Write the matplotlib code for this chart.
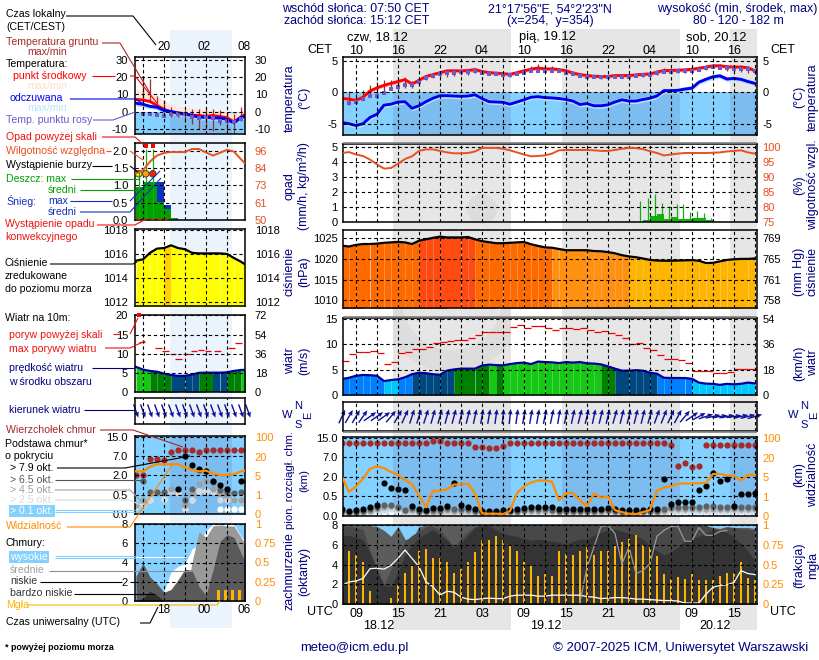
#!/usr/bin/env python3
# Meteogram: 60 h forecast (main panels) plus a legend copy of the first hours (left panels)
import numpy as np
import matplotlib
matplotlib.use('Agg')
import matplotlib.pyplot as plt
from matplotlib.patches import Rectangle, Circle, Wedge

plt.rcParams['font.family'] = ['Liberation Sans', 'DejaVu Sans']
plt.rcParams['font.size'] = 8

# --- main panels: hours since 18.12 00 UTC, hourly values
hours = list(range(7, 67))
temp_mid = [-1.0, -1.1, -1.3, -0.8, 0.2, 0.7, 1.1, 1.4, 1.7, 2.0, 1.3, 1.9, 2.5, 2.8, 3.1, 3.4, 3.4, 3.4, 3.45, 3.6,
            3.3, 3.1, 3.05, 2.95, 2.85, 3.1, 3.4, 3.65, 3.85, 3.7, 3.7, 3.6, 3.4, 3.05, 2.8, 2.65, 2.55, 2.5, 2.5, 2.65,
            2.65, 2.65, 2.75, 2.85, 2.9, 3.2, 3.45, 3.45, 3.5, 3.55, 3.65, 3.8, 4.0, 4.2, 4.2, 4.05, 4.0, 4.0, 3.9, 3.4]
temp_feel = [-4.8, -5.0, -5.3, -5.0, -4.0, -3.5, -2.05, -1.9, -1.55, -1.5, -2.55, -2.15, -1.5, -0.95, -0.55, -0.55,
             -0.6, -0.65, -0.6, -0.4, -1.0, -1.5, -1.55, -1.6, -1.9, -1.55, -1.2, -0.8, -0.7, -0.85, -0.9, -1.0, -1.15,
             -1.4, -1.95, -1.8, -2.15, -2.15, -2.0, -1.55, -1.2, -1.4, -1.4, -1.15, -0.95, -0.6, 0.25, 0.25, 0.3, 0.5,
             0.65, 1.6, 2.05, 2.45, 2.6, 2.1, 2.2, 2.05, 1.7, 1.4]
temp_dew = [-1.7, -1.7, -1.5, -1.1, -0.6, -0.6, -0.1, 0.5, 0.9, 1.2, 1.1, 1.7, 2.3, 2.6, 2.9, 3.1, 3.1, 3.15, 3.2,
            3.3, 3.1, 2.9, 2.85, 2.8, 2.7, 2.9, 3.1, 3.3, 3.4, 3.35, 3.4, 3.3, 3.1, 2.85, 2.65, 2.5, 2.4, 2.35, 2.35,
            2.5, 2.5, 2.5, 2.6, 2.7, 2.75, 3.0, 3.2, 3.25, 3.3, 3.35, 3.45, 3.6, 3.8, 3.95, 3.9, 3.8, 3.75, 3.75, 3.7, 3.3]
ground_max = [-0.5, 0.2, -0.2, 0.4, 1.2, 1.6, 1.9, 1.9, 2.1, 2.4, 1.8, 2.3, 2.8, 3.0, 3.3, 3.6, 3.6, 3.6, 3.6, 3.8,
              3.5, 3.3, 3.2, 3.1, 3.0, 3.3, 3.7, 4.1, 4.5, 4.1, 4.1, 3.9, 3.7, 3.3, 3.0, 2.9, 2.8, 2.7, 2.7, 2.9,
              2.9, 2.9, 3.0, 3.1, 3.1, 3.5, 3.8, 3.8, 3.9, 3.9, 4.0, 4.1, 4.3, 4.5, 4.5, 4.4, 4.3, 4.3, 4.2, 3.6]
ground_min = [-1.4, -2.0, -1.8, -1.3, -0.6, -0.4, 0.2, 0.5, 0.5, 0.6, 0.6, 1.2, 1.9, 2.3, 2.5, 2.5, 2.6, 2.7, 2.8,
              3.0, 2.9, 2.7, 2.7, 2.5, 2.5, 2.7, 2.9, 3.2, 3.3, 3.2, 3.2, 3.2, 3.0, 2.7, 2.4, 2.3, 2.2, 2.1, 2.1,
              2.3, 2.3, 2.3, 2.4, 2.5, 2.6, 2.8, 3.0, 3.0, 3.1, 3.1, 3.2, 3.4, 3.6, 3.8, 3.7, 3.3, 3.3, 3.2, 3.0, 2.9]
temp_spread = 0.3
feel_spread = 0.4

humidity = [98.0, 98.3, 97.5, 97.0, 95.8, 94.2, 92.8, 93.0, 94.4, 96.0, 96.9, 98.7, 99.2, 99.2, 98.7, 98.2, 97.9,
            97.9, 98.0, 98.5, 99.7, 99.7, 99.7, 99.4, 98.9, 98.2, 97.5, 96.9, 97.0, 97.2, 97.8, 98.9, 99.0, 99.0, 99.0,
            99.0, 98.9, 98.7, 98.7, 99.0, 99.4, 99.7, 99.6, 99.3, 98.6, 98.0, 97.2, 97.5, 97.8, 98.0, 98.0, 98.0, 98.0,
            98.1, 98.2, 98.5, 98.7, 98.9, 98.2, 97.8]
rain_hours = [50, 51, 52, 53, 54, 55, 56, 57, 58, 59]
rain_mean = [0.15, 0.38, 0.53, 0.2, 0.33, 0.18, 0.18, 0.25, 0.25, 0.15]
rain_max_hours = [49.6, 50.75, 51.75, 52.75, 53.75, 54.8, 55.75, 56.7, 57.7, 58.7, 59.7, 60.8]
rain_max = [1.38, 1.62, 1.9, 1.3, 1.04, 1.22, 1.18, 0.67, 0.73, 0.6, 0.3, 0.1]

pressure = [1023.2, 1023.0, 1023.4, 1023.6, 1023.6, 1023.7, 1023.9, 1024.0, 1024.1, 1024.0, 1023.6, 1024.4, 1024.75,
            1025.1, 1025.4, 1025.2, 1025.2, 1025.2, 1025.3, 1024.75, 1024.3, 1024.05, 1023.8, 1023.8, 1023.9, 1024.0,
            1024.1, 1023.55, 1023.15, 1022.8, 1022.7, 1022.4, 1022.1, 1022.1, 1022.1, 1022.1, 1021.9, 1021.85, 1021.65,
            1021.35, 1020.9, 1020.6, 1020.4, 1020.1, 1019.75, 1019.6, 1019.55, 1019.55, 1019.6, 1019.65, 1019.7, 1019.55,
            1019.0, 1019.05, 1019.4, 1019.75, 1019.9, 1020.0, 1020.0, 1020.1]
pressure_class = [1] * 11 + [0] * 8 + [1] * 11 + [2] * 11 + [3] * 19

wind = [3.15, 3.4, 3.8, 3.95, 3.9, 3.8, 2.75, 2.95, 3.1, 3.5, 4.1, 4.4, 4.3, 4.1, 4.0, 4.8, 5.05, 5.2, 5.2, 5.2, 5.8,
        6.0, 5.9, 5.85, 6.1, 6.3, 6.4, 6.1, 6.6, 6.5, 6.45, 6.3, 6.5, 6.4, 6.5, 6.25, 6.2, 6.05, 5.65, 5.2, 4.8, 4.8,
        4.9, 4.8, 4.4, 4.2, 3.4, 3.35, 3.35, 3.35, 3.2, 2.45, 2.25, 2.2, 2.0, 2.2, 2.1, 2.2, 2.45, 2.3]
wind_class = [1] * 6 + [0] * 2 + [1] * 2 + [2] * 6 + [3] * 5 + [4] + [3] + [4] * 14 + [3] * 2 + [2] * 6 + [1] * 5 + [0] * 10
gust = [6.65, 8.0, 8.4, 8.4, 8.6, 8.3, 6.05, 6.45, 8.2, 8.4, 9.0, 9.0, 9.4, 10.2, 10.4, 10.6, 10.8, 10.8, 11.2, 11.8,
        12.4, 12.4, 12.4, 12.4, 13.35, 13.75, 13.15, 13.55, 13.55, 13.15, 12.85, 13.15, 13.15, 12.95, 13.15, 12.75,
        12.35, 12.55, 12.3, 11.8, 11.3, 10.05, 10.2, 9.2, 8.8, 7.85, 7.05, 7.05, 6.85, 6.25, 4.75, 4.75, 4.75, 4.3,
        4.3, 4.55, 5.05, 5.05, 5.05, 5.05]
wind_dir = [25, 30, 30, 35, 55, 55, 55, 40, 30, 25, 18, 18, 18, 16, 16, 15, 15, 14, 14, 12, 10, 10, 8, 6, 6, 8, 10, 10,
            10, 12, 12, 10, 12, 12, 14, 14, 12, 14, 14, 16, 14, 14, 14, 14, 16, 20, 22, 25, 28, 40, 55, 62, 72, 78, 82,
            80, 82, 78, 76, 74]

cloud_top = [12.9, 12.9, 12.9, 12.9, 12.9, 12.9, 12.9, 12.9, 12.9, 12.9, 12.9, 12.9, 12.9, 13.5, 13.5, 12.9, 12.9, 12.9,
             12.9, 11.4, 11.4, 11.0, 11.0, 11.5, 12.9, 12.9, 12.9, 12.9, 12.9, 12.9, 12.9, 12.9, 12.9, 12.9, 12.9, 12.9,
             12.9, 12.9, 12.9, 12.9, 12.9, 12.9, 12.9, 12.9, 12.9, 12.9, 12.9, 12.07, 4.85, 5.6, 4.6, 4.85, 12.07, 12.07,
             12.07, 12.07, 12.07, 12.07, 12.07, 12.07]
base_79 = [0.17, 0.14, 0.155, 0.18, 0.22, 0.29, 1.5, 1.13, 1.1, 1.0, 0.26, 0.17, 0.155, 0.2, 0.2, 0.26, 1.5, 0.27, 0.22,
           0.17, 0.14, 0.13, 0.13, 0.15, 0.155, 0.17, 0.21, 0.22, 0.23, 0.22, 0.22, 0.17, 0.18, 0.18, 0.18, 0.17, 0.19,
           0.19, 0.21, 0.19, 0.155, 0.145, 0.145, 0.16, 0.17, 0.18, 1.8, 0.31, 0.36, 0.37, 0.36, 0.98, 1.33, 3.03, 1.71,
           1.87, 0.26, 0.65, 0.7, 0.75]
base_65 = [0.12, 0.1, 0.11, 0.13, 0.17, 0.22, 0.27, 0.28, 0.24, 0.16, 0.2, 0.13, 0.12, 0.15, 0.15, 0.2, 0.17, 0.19, 0.17,
           0.13, 0.1, 0.1, 0.1, 0.11, 0.12, 0.13, 0.16, 0.17, 0.17, 0.17, 0.16, 0.13, 0.14, 0.14, 0.14, 0.13, 0.14, 0.15,
           0.16, 0.14, 0.11, 0.11, 0.11, 0.12, 0.13, 0.14, 0.17, 0.23, 0.24, 0.24, 0.24, 0.24, 0.25, 0.25, 0.24, 0.24,
           0.22, 0.23, 0.24, 0.23]
base_45 = [0.09, 0.08, 0.08, 0.1, 0.13, 0.17, 0.22, 0.25, 0.2, 0.13, 0.15, 0.1, 0.09, 0.11, 0.11, 0.15, 0.13, 0.14, 0.13,
           0.1, 0.08, 0.08, 0.08, 0.09, 0.09, 0.1, 0.12, 0.13, 0.13, 0.13, 0.12, 0.1, 0.11, 0.11, 0.11, 0.1, 0.11, 0.11,
           0.12, 0.11, 0.09, 0.08, 0.08, 0.09, 0.1, 0.11, 0.14, 0.17, 0.17, 0.17, 0.17, 0.18, 0.18, 0.18, 0.18, 0.17,
           0.17, 0.18, 0.19, 0.18]
base_25 = [0.06, 0.05, 0.05, 0.07, 0.09, 0.13, 0.16, 0.18, 0.15, 0.09, 0.1, 0.07, 0.06, 0.08, 0.08, 0.1, 0.09, 0.1, 0.09,
           0.07, 0.05, 0.05, 0.05, 0.06, 0.06, 0.07, 0.09, 0.09, 0.09, 0.09, 0.08, 0.07, 0.08, 0.08, 0.08, 0.07, 0.08,
           0.08, 0.09, 0.08, 0.06, 0.06, 0.06, 0.06, 0.07, 0.08, 0.1, 0.12, 0.12, 0.12, 0.12, 0.13, 0.13, 0.13, 0.13,
           0.12, 0.12, 0.13, 0.14, 0.13]
base_01 = [0.03, 0.03, 0.03, 0.04, 0.05, 0.08, 0.1, 0.11, 0.09, 0.05, 0.06, 0.04, 0.03, 0.04, 0.04, 0.06, 0.05, 0.06, 0.05,
           0.04, 0.03, 0.03, 0.03, 0.03, 0.03, 0.04, 0.05, 0.05, 0.05, 0.05, 0.05, 0.04, 0.04, 0.04, 0.04, 0.04, 0.04,
           0.04, 0.05, 0.04, 0.03, 0.03, 0.03, 0.03, 0.04, 0.04, 0.06, 0.07, 0.07, 0.07, 0.07, 0.08, 0.08, 0.08, 0.08,
           0.07, 0.07, 0.08, 0.08, 0.08]
visibility = [5.2, 2.0, 3.1, 4.7, 11.5, 13.5, 12.0, 9.0, 6.8, 4.4, 3.6, 1.2, 0.45, 2.2, 2.2, 2.5, 3.5, 3.5, 3.7, 1.7, 0.14,
              0.12, 0.12, 0.1, 0.25, 1.7, 3.1, 3.9, 4.3, 4.3, 4.1, 0.8, 1.7, 1.8, 0.8, 0.5, 1.6, 0.95, 1.0, 0.3, 0.2, 0.12,
              0.1, 0.2, 0.3, 2.2, 2.9, 3.1, 3.7, 3.7, 3.7, 3.8, 3.8, 7.5, 7.6, 6.3, 6.2, 4.3, 7.0, 6.5]

cover_all = [8, 8, 8, 8, 8, 7.9, 7.5, 6.9, 7.9, 6.6, 6.6, 7.9] + [8] * 41 + [7.8, 7.7, 7.9, 7.8, 7.8, 7.8, 7.7]
cover_mid = [7.9, 7.9, 7.8, 7.6, 5.5, 3.5, 2.0, 3.5, 5.2, 6.4, 7.0, 7.4, 7.9, 7.9, 7.5, 6.7, 5.8, 6.7, 7.4, 7.9] \
    + [8] * 33 + [7.7, 7.6, 7.8, 7.8, 7.7, 7.6, 7.5]
cover_low = [7.0, 7.0, 6.8, 6.6, 5.2, 3.4, 1.9, 1.8, 3.2, 5.0, 6.0, 6.8, 7.2, 7.6, 7.0, 6.5, 5.8, 6.2, 7.0, 7.8, 8.0, 8.0,
             7.6, 7.2, 7.0, 6.9, 6.7, 6.5, 6.6, 6.5, 6.4, 6.3, 6.1, 6.4, 6.6, 6.6, 7.0, 7.3, 7.5, 7.6, 7.4, 7.2, 7.0, 6.6,
             6.0, 5.4, 5.0, 5.3, 5.8, 6.4, 6.7, 6.9, 7.2, 7.5, 7.5, 7.3, 6.8, 6.2, 5.4, 4.4]
cover_high_line = [1.9, 2.25, 2.35, 2.6, 3.6, 3.65, 3.55, 3.95, 4.65, 5.5, 4.65, 3.8, 2.25, 1.75, 0.9, 1.3, 1.2, 0.7, 0.5,
                   0.45, 0.55, 0.6, 0.55, 0.55, 0.8, 0.9, 0.9, 0.9, 0.8, 0.8, 0.9, 0.9, 0.9, 0.9, 0.9, 0.75, 0.7, 0.55, 0.6,
                   0.65, 0.65, 0.6, 0.5, 0.5, 0.45, 0.4, 0.35, 0.35, 0.3, 0.1, 0.1, 0.1, 1.0, 1.7, 1.9, 1.95, 2.2, 3.4, 3.1, 3.0]
mid_line_hours = list(range(41, 63))
cover_mid_line = [0.2, 3.7, 5.8, 7.9, 8.0, 7.2, 4.1, 5.8, 3.1, 3.4, 4.1, 6.9, 7.5, 7.9, 7.9, 6.4, 6.4, 7.8, 7.0, 7.0, 7.4, 7.5]
fog = [0.43, 0.67, 0.62, 0.53, 0.17, 0, 0, 0.08, 0.24, 0.4, 0.48, 0.67, 0.7, 0.59, 0.58, 0.54, 0.4, 0.45, 0.53, 0.66, 0.82,
       0.81, 0.86, 0.82, 0.74, 0.67, 0.53, 0.48, 0.36, 0.38, 0.36, 0.68, 0.64, 0.62, 0.68, 0.72, 0.62, 0.68, 0.68, 0.74, 0.79,
       0.83, 0.88, 0.75, 0.72, 0.61, 0.38, 0.32, 0.34, 0.32, 0.38, 0.3, 0.31, 0.31, 0.36, 0.39, 0.39, 0.54, 0.33, 0.31]

# --- left panels: legend copy, hours since 18.12 00 UTC
left_hours = list(range(-10, 7))
left_temp = [7, 6.6, 5.8, 3.5, 1.2, -0.2, -1, -1.7, -2.1, -2.3, -2.7, -2.3, -2.9, -3.6, -6, -3.2, -0.8]
left_temp_max = [13, 12, 10.5, 9, 6.5, 4.4, 3, 2.4, 1.6, 1.6, 0.8, 0.6, 0.4, -0.2, -1, 0.5, 1.5]
left_feel = [4.8, 4.2, 3, 2.5, 0.6, 0, -0.8, -1.3, -2.3, -3.3, -3.3, -3.7, -3.7, -4.6, -6.7, -3.3, -2.7]
left_dew_hours = list(range(-9, 6))
left_dew = [-1.3, -1.7, -2.3, -2.7, -1.3, -1.3, -1.7, -2.9, -3.7, -3.3, -3.8, -5.2, -5.6, -6.2, -4.2]
left_ground_max = [20.8, 18.8, 9.2, 6.3, 2.5, -0.4, 0.6, 1.5, 1.5, 1.5, 1.5, 0.6, -0.4, -1.3, 2.5]
left_ground_min = [7.3, 6.3, 4.4, -0.4, -3.3, -3.3, -6.2, -7.1, -10, -10, -11, -8, -11, -12.9, -5.2]
left_humidity = [81, 83, 88.7, 92.7, 94.4, 95, 95, 95, 97, 97, 94.7, 92.7, 94.5, 96.5, 95.3, 90.2, 85.4]
left_rain_hours = [-10, -9, -8, -7, -6, -5]
left_rain_mean = [0.95, 1.1, 1.1, 0.52, 0.33, 0.05]
left_snow_mean = [0, 0, 0, 1.1, 0.43, 0]
left_rain_stick_hours = [-9.6, -8.6, -7.6]
left_rain_stick = [1.33, 2.05, 2.05]
left_over_scale_hours = [-8.6, -7.6]
left_storm_hours = [-9.6, -8.6, -7.6]
left_convective_hours = [-10, -9, -8, -7, -6]
left_pressure = [1015.44, 1015.55, 1016.1, 1016.45, 1016.5, 1016.73, 1016.5, 1016.4, 1016.1, 1016.05, 1016.05, 1016.05,
                 1016.05, 1016.0, 1015.66, 1015.35, 1014.96]
left_pressure_class = [0, 0, 0, 0, 1, 0, 0, 0, 0, 0, 0, 0, 0, 0, 0, 0, 0]
left_wind = [6.55, 5.85, 5.5, 5.3, 4.8, 4.45, 4.2, 4.2, 4.55, 5.0, 5.05, 5.05, 5.05, 5.15, 5.5, 5.75, 5.8]
left_wind_class = [4, 4, 3, 3, 3, 2, 2, 2, 2, 3, 3, 2, 2, 3, 3, 4, 4]
left_gust_hours = [-9.6, -7.3, -6.3, -5.2, -4.4, -3.3, -2.2, -1.2, -0.2, 1.2, 3.2, 4.2]
left_gust = [13.1, 11.6, 10.8, 10.0, 8.6, 9.8, 10.6, 10.9, 10.7, 10.6, 11.6, 12.7]
left_dir = [160] * 17
left_cloud_top = [2.0, 2.0, 6.3, 6.3, 5.95, 8.7, 9.67, 9.67, 9.67, 8.7, 9.67, 9.67, 9.67, 9.67, 9.67, 9.67, 9.67]
left_base_79 = [np.nan] * 6 + [0.93, 7.0, 4.8, 3.75, 3.1, 1.55, 1.25, 0.93, np.nan, 1.55, 1.55]
left_base_65 = [np.nan, 1.6, 0.7, 0.7, 0.7, np.nan, np.nan, 0.35, 0.93, 3.4, 3.0, 1.5, 0.9, 0.7, 0.65, 0.7, 1.5]
left_base_45 = [0.24, 0.37, 0.6, 0.6, 0.6, 0.93, 0.93, 0.24, 0.6, 1.3, 1.6, 0.93, 0.6, 0.5, 0.37, 0.37, 0.6]
left_base_25 = [0.18, 0.24, 0.37, np.nan, 0.38, 0.75, 0.6, 0.12, 0.37, 0.75, 0.75, 0.75, 0.37, 0.37, 0.35, 0.37, 0.37]
left_base_01 = [np.nan, np.nan, 0.37, np.nan, 0.38, np.nan, np.nan, 0.12, 0.37, 0.75, 0.75, 0.75, 0.12, 0.12, 0.12, 0.12, np.nan]
left_vis = [8.4, 8.4, 12, 14, 14, 14, 14, 11.5, 9.5, 8.4, 9, 6.8, 5.5, 5.5, 6.3, 8.4, 9.5]
left_high = [0, 0, 0, 0, 1, 3, 3.6, 3.9, 5.4, 5.9, 7.3, 8, 8, 8, 8, 6.7, 6]
left_mid = [0, 0, 0, 0, 0, 0, 0, 0, 4, 7.2, 6.6, 7.8, 7.9, 7.8, 7.8, 6.6, 5.5]
left_low = [2.6, 3.9, 2.5, 1.8, 0.9, 1.2, 2.2, 3.3, 3.2, 1.5, 0.6, 3.2, 6.2, 6.9, 6.6, 5, 3.5]
left_vlow = [0, 0.3, 1, 0.6, 0, 0, 0, 0, 0, 0, 0, 0, 0, 0, 0, 0, 0]
left_fog_hours = [1.8, 2.8, 3.8, 4.8]
left_fog = [0.14, 0.14, 0.14, 0.14]

# --- tick labels, one for every second grid line
cet_labels = ['10', '', '16', '', '22', '', '04', '', '10', '', '16', '', '22', '', '04', '', '10', '', '16', '']
utc_labels = ['09', '', '15', '', '21', '', '03', '', '09', '', '15', '', '21', '', '03', '', '09', '', '15', '']
night_spans = [(14.29, 31.14), (38.43, 55.29), (62.43, 67)]
left_night_span = [(-5.14, 3.71)]

NAVY = '#000080'
SKY = '#84d0ff'
SKY_NIGHT = '#7cbcee'
ORANGE = '#ff8c00'
RH_COLOR = '#e8501e'
BROWN = '#a52a2a'
PRESSURE_COLORS = ['#ff4a10', '#ff6a00', '#ff9010', '#ffb400']
LEFT_PRESSURE_COLORS = ['#ffff00', '#ffd000']
WIND_COLORS = ['#00c8ff', '#0080ff', '#004880', '#008000', '#14c814']
DOT_COLORS = ['#ffffff', '#d8d8d8', '#a0a0a0', '#606060', '#000000']

MAIN_X = (343, 757)
LEFT_X = (135, 245)
main_xlim = (7.14, 66.3)
left_xlim = (-10.14, 5.57)
main_grid = list(range(9, 67, 3))
left_grid = [-9, -6, -3, 0, 3]
KM_STOPS = [0, 0.5, 2, 7, 15, 23]
VIS_STOPS = [0, 1, 5, 20, 100, 180]

fig = plt.figure(figsize=(8.2, 6.6), dpi=100, facecolor='white')


def pixel_axes(x0, y0, x1, y1, zorder=5):
    ax = fig.add_axes([x0 / 820, 1 - y1 / 660, (x1 - x0) / 820, (y1 - y0) / 660], zorder=zorder)
    ax.patch.set_visible(False)
    return ax


def page_axes(zorder):
    ax = fig.add_axes([0, 0, 1, 1], zorder=zorder)
    ax.set_xlim(0, 820)
    ax.set_ylim(660, 0)
    ax.axis('off')
    return ax


def height_scale(ax, stops):
    positions = np.arange(len(stops))
    ax.set_yscale('function', functions=(lambda v: np.interp(v, stops, positions),
                                         lambda p: np.interp(p, positions, stops)))


def dress(ax, xlim, xgrid, ylim, yticks, ylabels, grid_y=True, pad=5, stops=None):
    if stops is not None:
        height_scale(ax, stops)
    ax.set_xlim(*xlim)
    ax.set_ylim(*ylim)
    ax.set_xticks(xgrid)
    ax.set_xticklabels([])
    ax.set_yticks(yticks)
    ax.set_yticklabels(ylabels)
    ax.minorticks_off()
    ax.tick_params(length=0, pad=pad, labelsize=8)
    ax.set_axisbelow(False)
    ax.grid(True, axis='x', color='black', lw=0.8, ls=(0, (3, 2.5)))
    if grid_y:
        ax.grid(True, axis='y', color='black', lw=0.8, ls=(0, (3, 2.5)))
    for spine in ax.spines.values():
        spine.set_linewidth(1.1)


def right_labels(ax, ylim, yticks, ylabels, color='black', pad=5, stops=None):
    twin = ax.twinx()
    twin.patch.set_visible(False)
    if stops is not None:
        height_scale(twin, stops)
    twin.set_ylim(*ylim)
    twin.set_yticks(yticks)
    twin.set_yticklabels(ylabels, color=color)
    twin.minorticks_off()
    twin.tick_params(length=0, pad=pad, labelsize=8)
    for spine in twin.spines.values():
        spine.set_visible(False)
    return twin


def fill_columns(ax, xs, values, classes, colors, base):
    for i in range(len(xs) - 1):
        ax.fill_between(xs[i:i + 2], base, values[i:i + 2], color=colors[classes[i]], lw=0)


def sky_below(ax, lo, hi, spans, xlim):
    ax.fill_between(xlim, lo, hi, color=SKY, lw=0)
    for start, end in spans:
        ax.fill_between([start, end], lo, hi, color=SKY_NIGHT, lw=0)


def cloud_dots(ax, xs, layers, top, size=20):
    for layer, color in zip(layers, DOT_COLORS):
        ax.scatter(xs, layer, s=size, color=color, lw=0, zorder=1.5)
    ax.scatter(xs, top, s=size, color=BROWN, lw=0, zorder=1.6)


# --- page background: day and night bands, faint logo
back = page_axes(0)
back.add_patch(Rectangle((170, 30), 62, 598, color='#ebf3fd', lw=0))
night_boxes = [Rectangle((393, 29), 118, 601, color='#e6e6e6', lw=0),
               Rectangle((562, 29), 118, 601, color='#e6e6e6', lw=0),
               Rectangle((730, 29), 27, 601, color='#e6e6e6', lw=0)]
for box in night_boxes:
    back.add_patch(box)
back.add_patch(Circle((482, 209), 15, color='#dcdcdc', lw=0))
logo = Wedge((452, 300), 72, 0, 180, width=22, color='#dddddd', lw=0)
back.add_patch(logo)
logo.set_clip_path(night_boxes[0])

# --- temperature
ax = pixel_axes(MAIN_X[0], 57, MAIN_X[1], 135)
dress(ax, main_xlim, main_grid, (-6.8, 5.6), [-5, 0, 5], ['-5', '0', '5'], pad=4)
sky_below(ax, -6.8, 0, night_spans, main_xlim)
ax.fill_between(hours, np.array(temp_mid) - temp_spread, np.array(temp_mid) + temp_spread, color='#ffc4c4', lw=0)
ax.fill_between(hours, np.array(temp_feel) - feel_spread, np.array(temp_feel) + feel_spread, color='#b8e4ff', lw=0)
ax.vlines(hours, ground_min, ground_max, color=BROWN, lw=0.9)
ax.plot(hours, temp_mid, color='#ff0000', lw=2.1)
ax.plot(hours, temp_feel, color='#0000ee', lw=2.1)
ax.scatter(hours, temp_dew, marker='s', s=6, color='#6a5acd', lw=0, zorder=2.2)
ax.set_xticklabels(cet_labels)
ax.tick_params(axis='x', labeltop=True, labelbottom=False, pad=0, labelsize=9)
right_labels(ax, (-6.8, 5.6), [-5, 0, 5], ['-5', '0', '5'], pad=4)

# --- precipitation and humidity
ax = pixel_axes(MAIN_X[0], 144, MAIN_X[1], 222)
dress(ax, main_xlim, main_grid, (0, 5.2), [0, 1, 2, 3, 4, 5], ['0', '1', '2', '3', '4', '5'], pad=4)
ax.bar(rain_hours, rain_mean, width=1, align='edge', color='#10b010', lw=0)
ax.vlines(rain_max_hours, 0, rain_max, color='#10b010', lw=0.9)
twin = right_labels(ax, (75, 101), [75, 80, 85, 90, 95, 100], ['75', '80', '85', '90', '95', '100'], RH_COLOR, pad=4)
twin.plot(hours, humidity, color=RH_COLOR, lw=1.4)

# --- pressure
ax = pixel_axes(MAIN_X[0], 230, MAIN_X[1], 308)
dress(ax, main_xlim, main_grid, (1008.1, 1027), [1010, 1015, 1020, 1025], ['1010', '1015', '1020', '1025'], pad=4)
fill_columns(ax, hours, pressure, pressure_class, PRESSURE_COLORS, 1008)
ax.plot(hours, pressure, color='black', lw=1.6)
right_labels(ax, (1008.1, 1027), [1010, 1015, 1020, 1025], ['758', '761', '765', '769'], pad=4)

# --- wind
ax = pixel_axes(MAIN_X[0], 318, MAIN_X[1], 395)
dress(ax, main_xlim, main_grid, (0, 15.2), [0, 5, 10, 15], ['0', '5', '10', '15'], pad=4)
fill_columns(ax, hours, wind, wind_class, WIND_COLORS, 0)
ax.hlines(gust, hours, np.array(hours) + 1, color='#ee0000', lw=0.9)
ax.plot(hours, wind, color='#0000a0', lw=1.6)
right_labels(ax, (0, 15.2), [0, 5, 10, 15], ['0', '18', '36', '54'], pad=4)

# --- wind direction
ax = pixel_axes(MAIN_X[0], 402, MAIN_X[1], 431)
dress(ax, main_xlim, main_grid, (-1, 1), [], [], grid_y=False)
rad = np.radians(wind_dir)
ax.quiver(hours, np.zeros(60), 15 * np.sin(rad), 15 * np.cos(rad), angles='uv', units='dots', scale_units='dots', scale=1,
          width=1.4, headwidth=3.5, headlength=4, headaxislength=3.5, pivot='middle', color='#10109a', clip_on=False)

# --- cloud base, top and visibility
ax = pixel_axes(MAIN_X[0], 437, MAIN_X[1], 516)
dress(ax, main_xlim, main_grid, (0, 15.3), [0, 0.5, 2, 7, 15], ['0.0', '0.5', '2.0', '7.0', '15.0'], pad=4, stops=KM_STOPS)
sky_below(ax, 0, 15.3, night_spans, main_xlim)
cloud_dots(ax, hours, [base_01, base_25, base_45, base_65, base_79], cloud_top)
twin = right_labels(ax, (0, 106), [0, 1, 5, 20, 100], ['0', '1', '5', '20', '100'], ORANGE, pad=4, stops=VIS_STOPS)
twin.plot(hours, visibility, color=ORANGE, lw=1.6)

# --- cloud cover and fog
ax = pixel_axes(MAIN_X[0], 525, MAIN_X[1], 604)
dress(ax, main_xlim, main_grid, (0, 8.05), [0, 2, 4, 6, 8], ['0', '2', '4', '6', '8'], pad=4)
ax.fill_between(main_xlim, 0, 8.05, color=SKY, lw=0)
ax.fill_between(hours, 0, cover_all, color='#5c5c5c', lw=0)
ax.fill_between(hours, 0, cover_mid, color='#484848', lw=0)
ax.fill_between(hours, 0, cover_low, color='#343434', lw=0)
ax.plot(hours, cover_high_line, color='white', lw=0.9)
ax.plot(mid_line_hours, cover_mid_line, color='#999999', lw=0.9)
ax.bar(hours, np.array(fog) * 8, width=0.4, color='#ffb400', lw=0, zorder=1.8)
ax.set_xticklabels(utc_labels)
ax.tick_params(axis='x', pad=3, labelsize=9)
right_labels(ax, (0, 1.006), [0, 0.25, 0.5, 0.75, 1], ['0', '0.25', '0.5', '0.75', '1'], ORANGE, pad=4)

# --- left: temperature
ax = pixel_axes(LEFT_X[0], 57, LEFT_X[1], 134)
dress(ax, left_xlim, left_grid, (-13, 31.5), [-10, 0, 10, 20, 30], ['-10', '0', '10', '20', '30'])
sky_below(ax, -13, 0, left_night_span, left_xlim)
ax.fill_between(left_hours, left_temp, left_temp_max, color='#ffe6d8', lw=0)
ax.fill_between(left_hours, np.array(left_feel) - 1.5, left_feel, color='#a8dcff', lw=0)
ax.vlines(left_dew_hours, left_ground_min, left_ground_max, color=BROWN, lw=0.9)
ax.plot(left_hours, left_temp, color='#ff0000', lw=2.1)
ax.plot(left_hours, left_feel, color='#0000ee', lw=2.1)
ax.scatter(left_dew_hours, left_dew, marker='s', s=9, color='#6a5acd', lw=0, zorder=2.2)
right_labels(ax, (-13, 31.5), [-10, 0, 10, 20, 30], ['-10', '0', '10', '20', '30'], pad=7)

# --- left: precipitation and humidity
ax = pixel_axes(LEFT_X[0], 143, LEFT_X[1], 220)
dress(ax, left_xlim, left_grid, (0, 2.217), [0, 0.5, 1, 1.5, 2], ['0.0', '0.5', '1.0', '1.5', '2.0'])
ax.bar(left_rain_hours, left_snow_mean, width=1, align='edge', color='#1030c0', lw=0)
ax.bar(left_rain_hours, left_rain_mean, width=1, align='edge', color='#00a000', lw=0)
ax.vlines(left_rain_stick_hours, 0, left_rain_stick, color='#10b010', lw=0.9)
ax.scatter(left_over_scale_hours, [2.13, 2.13], marker='s', s=10, color='#ff0000', lw=0, zorder=3)
ax.scatter(left_storm_hours, [1.33, 1.33, 1.33], s=22, c=['#ffee00', '#ffa000', '#ff2000'], edgecolors='#303030', lw=0.6, zorder=3)
ax.hlines([0.02] * 5, left_convective_hours, np.array(left_convective_hours) + 0.6, color='#ff0000', lw=1, zorder=3)
twin = right_labels(ax, (50, 101), [50, 61.5, 73, 84.5, 96], ['50', '61', '73', '84', '96'], RH_COLOR, pad=7)
twin.plot(left_hours, left_humidity, color=RH_COLOR, lw=1.4)

# --- left: pressure
ax = pixel_axes(LEFT_X[0], 229, LEFT_X[1], 306)
dress(ax, left_xlim, left_grid, (1011.63, 1018.1), [1012, 1014, 1016, 1018], ['1012', '1014', '1016', '1018'])
fill_columns(ax, left_hours, left_pressure, left_pressure_class, LEFT_PRESSURE_COLORS, 1011)
ax.plot(left_hours, left_pressure, color='black', lw=1.6)
right_labels(ax, (1011.63, 1018.1), [1012, 1014, 1016, 1018], ['1012', '1014', '1016', '1018'], pad=7)

# --- left: wind
ax = pixel_axes(LEFT_X[0], 315, LEFT_X[1], 392)
dress(ax, left_xlim, left_grid, (0, 20.1), [0, 5, 10, 15, 20], ['0', '5', '10', '15', '20'])
fill_columns(ax, left_hours, left_wind, left_wind_class, WIND_COLORS, 0)
ax.hlines(left_gust, left_gust_hours, np.array(left_gust_hours) + 0.95, color='#ee0000', lw=0.9)
ax.plot(left_hours, left_wind, color='#0000a0', lw=1.6)
ax.scatter([-9.6], [20], marker='s', s=5, color='#ff0000', lw=0, zorder=3, clip_on=False)
right_labels(ax, (0, 20.1), [0, 5, 10, 15, 20], ['0', '18', '36', '54', '72'], pad=7)

# --- left: wind direction
ax = pixel_axes(LEFT_X[0], 398, LEFT_X[1], 424)
dress(ax, left_xlim, left_grid, (-1, 1), [], [], grid_y=False)
rad = np.radians(left_dir)
ax.quiver(left_hours, np.zeros(17), 14 * np.sin(rad), 14 * np.cos(rad), angles='uv', units='dots', scale_units='dots', scale=1,
          width=1.4, headwidth=3.5, headlength=4, headaxislength=3.5, pivot='middle', color='#10109a', clip_on=False)

# --- left: cloud base and visibility
ax = pixel_axes(LEFT_X[0], 436, LEFT_X[1], 514)
dress(ax, left_xlim, left_grid, (0, 15.3), [0, 0.5, 2, 7, 15], ['0.0', '0.5', '2.0', '7.0', '15.0'], stops=KM_STOPS)
sky_below(ax, 0, 15.3, left_night_span, left_xlim)
cloud_dots(ax, left_hours, [left_base_01, left_base_25, left_base_45, left_base_65, left_base_79], left_cloud_top)
twin = right_labels(ax, (0, 106), [0, 1, 5, 20, 100], ['0', '1', '5', '20', '100'], ORANGE, pad=7, stops=VIS_STOPS)
twin.plot(left_hours, left_vis, color=ORANGE, lw=1.6)

# --- left: cloud cover and fog
ax = pixel_axes(LEFT_X[0], 524, LEFT_X[1], 601)
dress(ax, left_xlim, left_grid, (0, 8.0), [0, 2, 4, 6, 8], ['0', '2', '4', '6', '8'])
ax.fill_between(left_xlim, 0, 8, color=SKY, lw=0)
ax.fill_between(left_hours, 0, left_high, color='white', lw=0)
ax.fill_between(left_hours, 0, left_mid, color='#999999', lw=0)
ax.fill_between(left_hours, 0, left_low, color='#5a5a5a', lw=0)
ax.fill_between(left_hours, 0, left_vlow, color='#303030', lw=0)
ax.bar(left_fog_hours, np.array(left_fog) * 8, width=0.4, color='#ffb400', lw=0, zorder=1.8)
right_labels(ax, (0, 1), [0, 0.25, 0.5, 0.75, 1], ['0', '0.25', '0.5', '0.75', '1'], ORANGE, pad=7)

# --- all the text and leader lines in page pixels
page = page_axes(20)


def label(x, y, s, color='black', size=7.6, ha='left', **kw):
    page.text(x, y, s, color=color, fontsize=size, ha=ha, va='center', **kw)


def leader(points, color='black', lw=0.8):
    page.plot([p[0] for p in points], [p[1] for p in points], color=color, lw=lw, solid_capstyle='butt')


label(6, 14, 'Czas lokalny')
label(6, 27, '(CET/CEST)')
label(6, 42, 'Temperatura gruntu', BROWN)
label(27, 52, 'max/min', BROWN)
label(6, 64, 'Temperatura:')
label(13, 76, 'punkt środkowy', '#ff0000')
label(27, 86, 'max/min', '#ffdccc')
label(10, 98, 'odczuwana', '#0000ee')
label(27, 108, 'max/min', '#b4e2ff')
label(6, 120, 'Temp. punktu rosy', '#6a5acd')
label(6, 137, 'Opad powyżej skali', '#ee1111')
label(6, 151, 'Wilgotność względna', RH_COLOR)
label(6, 165, 'Wystąpienie burzy')
label(6, 179, 'Deszcz: max', '#00a000')
label(48, 190, 'średni', '#00a000')
label(6, 201, 'Śnieg:', '#1030c0')
label(48, 201, 'max', '#1030c0')
label(48, 212, 'średni', '#1030c0')
label(5, 224, 'Wystąpienie opadu', '#ee1111')
label(5, 237, 'konwekcyjnego', '#ee1111')
label(5, 263, 'Ciśnienie')
label(5, 276, 'zredukowane')
label(5, 289, 'do poziomu morza')
label(5, 318, 'Wiatr na 10m:')
label(9, 335, 'poryw powyżej skali', '#ee1111')
label(9, 349, 'max porywy wiatru', '#ee1111')
label(9, 368, 'prędkość wiatru', NAVY)
label(9, 382, 'w środku obszaru', NAVY)
label(9, 410, 'kierunek wiatru', NAVY)
label(6, 430, 'Wierzchołek chmur', BROWN)
label(5, 444, 'Podstawa chmur*')
label(5, 456, 'o pokryciu')
label(10, 468, '> 7.9 okt.')
label(10, 480, '> 6.5 okt.', '#555555')
label(10, 490, '> 4.5 okt.', '#a0a0a0')
label(10, 500, '> 2.5 okt.', '#d8d8d8')
label(10, 511, '> 0.1 okt.', 'white', bbox=dict(facecolor=SKY, edgecolor='none', pad=1))
label(6, 526, 'Widzialność', ORANGE)
label(6, 543, 'Chmury:')
label(10, 557, 'wysokie', 'white', bbox=dict(facecolor=SKY, edgecolor='none', pad=1))
label(10, 570, 'średnie', '#a0a0a0')
label(10, 581, 'niskie', '#333333')
label(10, 593, 'bardzo niskie', '#333333')
label(6, 605, 'Mgła', '#ffb400')
label(6, 622, 'Czas uniwersalny (UTC)')
label(5, 648, '* powyżej poziomu morza', size=6.4, fontweight='bold')

leader([(66, 16), (133, 16), (156, 45)])
leader([(102, 43), (120, 43), (150, 93)], BROWN)
leader([(92, 76), (115, 76)], '#ff0000')
leader([(130, 76), (135, 76), (157, 103)], '#ff0000')
leader([(70, 99), (135, 99), (147, 106)], '#0000ee')
leader([(93, 120), (113, 120), (135, 112)], '#6a5acd')
leader([(102, 137), (135, 137), (146, 147)], '#ee1111')
leader([(106, 151), (111, 151)], RH_COLOR)
leader([(130, 151), (143, 160)], RH_COLOR)
leader([(92, 166), (112, 166)])
leader([(130, 166), (138, 172)])
leader([(71, 179), (139, 179), (139, 172)], '#00a000')
leader([(80, 190), (138, 190)], '#00a000')
leader([(70, 201), (112, 201)], '#1030c0')
leader([(130, 201), (160, 171)], '#1030c0')
leader([(80, 212), (130, 212), (161, 178)], '#1030c0')
leader([(97, 225), (135, 225), (146, 219)], '#ee1111')
leader([(50, 264), (133, 264), (137, 262)])
leader([(113, 334), (120, 334)], '#ee1111')
leader([(130, 334), (138, 318)], '#ee1111')
leader([(105, 348), (130, 348), (145, 341)], '#ee1111')
leader([(92, 368), (135, 368)], NAVY)
leader([(84, 410), (135, 410)], NAVY)
leader([(100, 430), (133, 430), (183, 447)], BROWN)
leader([(57, 468), (125, 468), (190, 456)])
leader([(55, 480), (143, 480)], '#555555')
leader([(55, 490), (130, 490), (143, 503)], '#a0a0a0')
leader([(55, 500), (130, 500), (140, 505)], '#d8d8d8')
leader([(55, 510), (135, 510)], SKY)
leader([(55, 512), (135, 512)], SKY)
leader([(67, 527), (130, 527), (172, 465)], ORANGE)
leader([(55, 556), (135, 556)], SKY)
leader([(55, 558), (135, 558)], SKY)
leader([(135, 557), (186, 557)], 'white')
leader([(49, 571), (192, 571)], '#909090')
leader([(40, 582), (122, 582)])
leader([(130, 582), (135, 582)])
leader([(74, 594), (155, 594)])
leader([(27, 605), (217, 605), (220, 601)], '#ffb400')
leader([(140, 623), (150, 623), (158, 607)])

# grey shadow lines along the panel edges
for y in (143, 317, 432):
    leader([(343, y), (757, y)], '#808080', lw=1.2)

# left panels time labels
for x, s in zip([164, 204, 244], ['20', '02', '08']):
    label(x, 47, s, ha='center', size=8.5)
for x, s in zip([164, 204, 244], ['18', '00', '06']):
    label(x, 610, s, ha='center', size=8.5)

# header
label(282, 9, 'wschód słońca: 07:50 CET', NAVY, size=8.9)
label(284, 21, 'zachód słońca: 15:12 CET', NAVY, size=8.9)
label(550, 9, '21°17\'56"E, 54°2\'23"N', NAVY, size=8.9, ha='center')
label(550, 21, '(x=254,  y=354)', NAVY, size=8.9, ha='center')
label(817, 9, 'wysokość (min, środek, max)', NAVY, size=8.9, ha='right')
label(738, 21, '80 - 120 - 182 m', NAVY, size=8.9, ha='center')
label(347, 37, 'czw, 18.12', size=9.3)
label(519, 37, 'pią, 19.12', size=9.3)
label(686, 37, 'sob, 20.12', size=9.3)
label(307, 50, 'CET', size=9)
label(770, 50, 'CET', size=9)
label(307, 612, 'UTC', size=9)
label(770, 612, 'UTC', size=9)
label(363, 626, '18.12', size=9)
label(530, 626, '19.12', size=9)
label(699, 626, '20.12', size=9)
label(300, 648, 'meteo@icm.edu.pl', NAVY, size=9.4)
label(553, 648, '© 2007-2025 ICM, Uniwersytet Warszawski', NAVY, size=9.5)

# rotated panel titles, left then right of the main panels
left_titles = [(98, 'temperatura', '(°C)', 9), (186, 'opad', '(mm/h, kg/m³/h)', 9), (272, 'ciśnienie', '(hPa)', 9),
               (361, 'wiatr', '(m/s)', 9), (480, 'pion. rozciągł. chm.', '(km)', 8.2), (571, 'zachmurzenie', '(oktanty)', 9)]
right_titles = [(97, 'temperatura', '(°C)'), (185, 'wilgotność wzgl.', '(%)'), (272, 'ciśnienie', '(mm Hg)'),
                (363, 'wiatr', '(km/h)'), (475, 'widzialność', '(km)'), (565, 'mgła', '(frakcja)')]
for y, first, second, size in left_titles:
    label(290, y, first, NAVY, size=size, ha='center', rotation=90)
    label(304, y, second, NAVY, size=size, ha='center', rotation=90)
for y, first, second in right_titles:
    label(813, y, first, NAVY, size=9, ha='center', rotation=90)
    label(799, y, second, NAVY, size=9, ha='center', rotation=90)

# compass letters next to the wind direction panel
for cx in (287, 793):
    label(cx, 415, 'W', NAVY, size=8, ha='center')
    label(cx + 11, 406, 'N', NAVY, size=8, ha='center')
    label(cx + 11, 425, 'S', NAVY, size=8, ha='center')
    label(cx + 21, 415, 'E', NAVY, size=8, ha='center', rotation=90)

fig.savefig('out.png', dpi=100)
